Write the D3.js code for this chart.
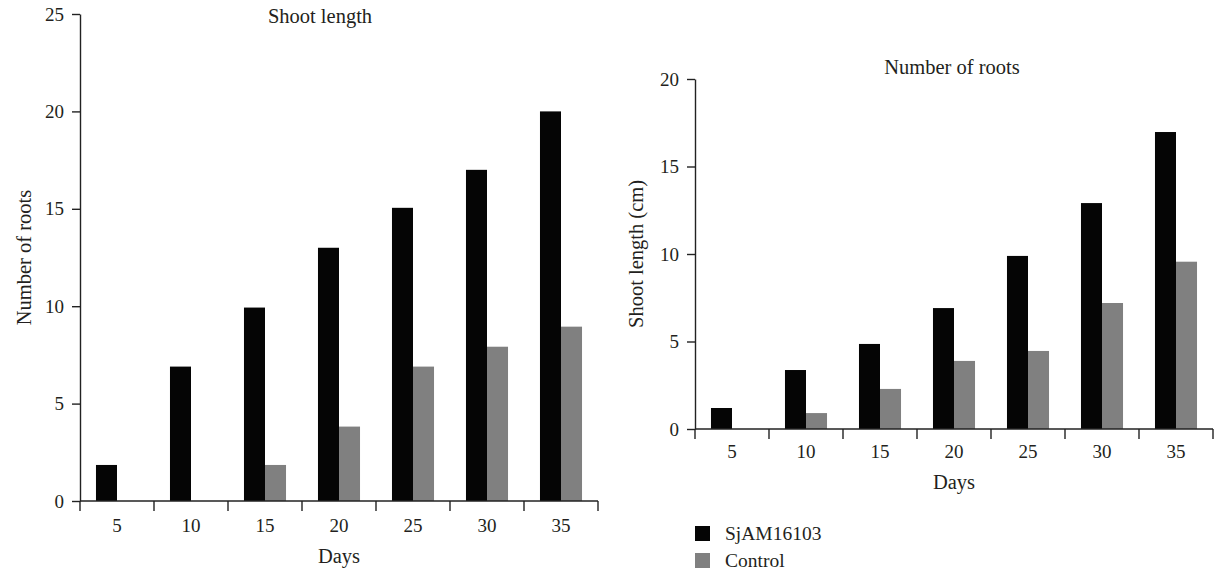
<!DOCTYPE html>
<html>
<head>
<meta charset="utf-8">
<script src="https://cdn.jsdelivr.net/npm/d3@7"></script>
<style>
  html, body { margin: 0; padding: 0; background: #fff; }
  svg { display: block; }
  svg text { font-family: "Liberation Serif", "Times New Roman", "DejaVu Serif", serif !important; fill: #231f20; }
</style>
</head>
<body>
<svg id="chart" width="1215" height="571" font-family="Liberation Serif, serif"></svg>
<script>
// ---- data ----
const days = ["5", "10", "15", "20", "25", "30", "35"];
const seriesNames = ["SjAM16103", "Control"];
const seriesColors = ["#050505", "#808080"];

// Left panel: "Shoot length" title, y axis "Number of roots"
const leftSjAM = [1.85, 6.9, 9.93, 13.0, 15.05, 17.0, 20.0];
const leftControl = [0, 0, 1.85, 3.82, 6.9, 7.92, 8.95];
const leftTicks = [0, 5, 10, 15, 20, 25];

// Right panel: "Number of roots" title, y axis "Shoot length (cm)"
const rightSjAM = [1.2, 3.37, 4.86, 6.91, 9.89, 12.91, 16.97];
const rightControl = [0, 0.91, 2.29, 3.89, 4.46, 7.2, 9.56];
const rightTicks = [0, 5, 10, 15, 20];

const FONT = '"Liberation Serif", "Times New Roman", serif';
const svg = d3.select("#chart");

function styleText(sel, size) {
  sel.attr("font-family", null).style("font-family", FONT).style("font-size", size).attr("fill", "#231f20");
}

function panel(cfg) {
  const g = svg.append("g");
  const x = d3.scaleBand().domain(days).range([cfg.x0, cfg.x1]).paddingInner(0).paddingOuter(0);
  const xs = d3.scaleBand().domain(seriesNames).range([0, x.bandwidth()]).paddingInner(0).paddingOuter(0.76);
  const y = d3.scaleLinear().domain([0, cfg.yMax]).range([cfg.y0, cfg.y1]);

  const rows = days.map((d, i) => ({ day: d, vals: [cfg.a[i], cfg.b[i]] }));

  // bars
  const grp = g.selectAll("g.day").data(rows).join("g").attr("class", "day")
    .attr("transform", d => `translate(${x(d.day)},0)`);
  grp.selectAll("rect").data(d => d.vals.map((v, k) => ({ k, v }))).join("rect")
    .attr("x", d => xs(seriesNames[d.k]))
    .attr("width", xs.bandwidth())
    .attr("y", d => y(d.v))
    .attr("height", d => y(0) - y(d.v))
    .attr("fill", d => seriesColors[d.k]);

  // y axis
  const ya = g.append("g").attr("transform", `translate(${cfg.x0},0)`)
    .call(d3.axisLeft(y).tickValues(cfg.ticks).tickSize(8).tickSizeOuter(0).tickPadding(8).tickFormat(d3.format("d")));
  ya.attr("font-family", null);
  ya.selectAll("path, line").attr("stroke", "#222").attr("stroke-width", 1.4);
  styleText(ya.selectAll("text"), "19px");

  // x axis (labels centred in bands)
  const xa = g.append("g").attr("transform", `translate(0,${cfg.y0})`)
    .call(d3.axisBottom(x).tickSize(0).tickPadding(cfg.xPad));
  xa.attr("font-family", null);
  xa.select("path.domain").remove();
  styleText(xa.selectAll("text"), "19px");

  // x baseline and boundary ticks
  const bounds = days.map(d => x(d)).concat([x(days[days.length - 1]) + x.step()]);
  g.append("line").attr("x1", cfg.x0).attr("x2", cfg.x1).attr("y1", y(0)).attr("y2", y(0))
    .attr("stroke", "#222").attr("stroke-width", 1.4);
  g.selectAll("line.bt").data(bounds).join("line").attr("class", "bt")
    .attr("x1", d => d).attr("x2", d => d).attr("y1", y(0)).attr("y2", y(0) + 10)
    .attr("stroke", "#222").attr("stroke-width", 1.4);

  // titles & labels
  styleText(g.append("text").attr("x", cfg.titleX).attr("y", cfg.titleY).attr("text-anchor", "middle")
    .text(cfg.title), "20.5px");
  styleText(g.append("text").attr("x", (cfg.x0 + cfg.x1) / 2).attr("y", cfg.daysY).attr("text-anchor", "middle")
    .text("Days"), "20.5px");
  styleText(g.append("text").attr("transform", `translate(${cfg.ylabX},${(cfg.y0 + cfg.y1) / 2}) rotate(-90)`)
    .attr("text-anchor", "middle").text(cfg.ylab), "20.5px");
}

panel({ x0: 80, x1: 598, y0: 501, y1: 14, yMax: 25, ticks: leftTicks, a: leftSjAM, b: leftControl,
  xPad: 18, title: "Shoot length", titleX: 320, titleY: 23, daysY: 563, ylabX: 31, ylab: "Number of roots" });
panel({ x0: 695, x1: 1213, y0: 429, y1: 79, yMax: 20, ticks: rightTicks, a: rightSjAM, b: rightControl,
  xPad: 16, title: "Number of roots", titleX: 952, titleY: 74, daysY: 489, ylabX: 643, ylab: "Shoot length (cm)" });

// legend
const leg = svg.append("g").attr("transform", "translate(695,526)");
const li = leg.selectAll("g").data(seriesNames).join("g").attr("transform", (d, i) => `translate(0,${i * 27})`);
li.append("rect").attr("width", 15).attr("height", 15).attr("fill", (d, i) => seriesColors[i]);
styleText(li.append("text").attr("x", 30).attr("y", 7.5).attr("dy", "0.35em").text(d => d), "19.5px");
</script>
</body>
</html>
